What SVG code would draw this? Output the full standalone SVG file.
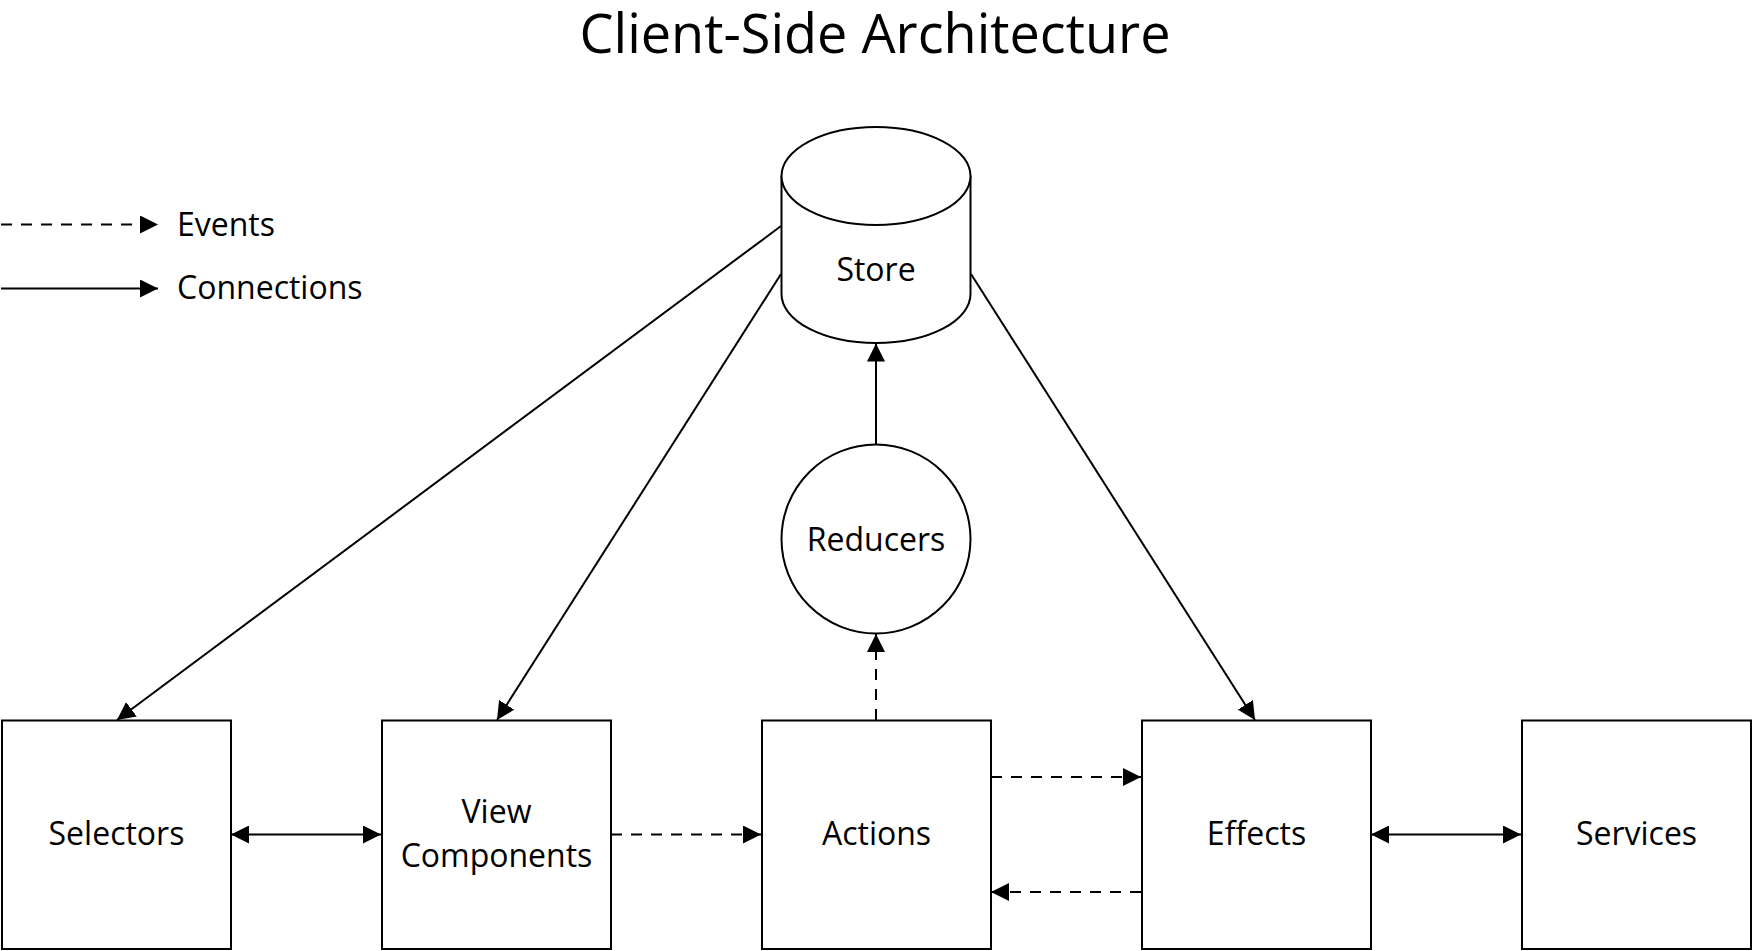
<svg xmlns="http://www.w3.org/2000/svg" width="1752" height="951" viewBox="0 0 1752 951">
<style>
.shape{fill:#fff;stroke:#000;stroke-width:2}
.lbl{font-family:"Open Sans","Noto Sans",sans-serif;font-size:32px;fill:#000;text-anchor:middle}
.leg{font-family:"Open Sans","Noto Sans",sans-serif;font-size:32px;fill:#000}
.title{font-family:"Open Sans","Noto Sans",sans-serif;font-size:54px;fill:#000;text-anchor:middle}
.conn{fill:none;stroke:#000;stroke-width:2}
.dash{stroke-dasharray:11 9}
</style>
<defs>
<marker id="ah" markerUnits="userSpaceOnUse" viewBox="0 0 18 18" markerWidth="18" markerHeight="18" refX="18" refY="9" orient="auto-start-reverse">
<path d="M0,0 L18,9 L0,18 Z" fill="#000"/>
</marker>
</defs>
<rect width="1752" height="951" fill="#fff"/>
<text class="title" x="875" y="53">Client-Side Architecture</text>
<g id="legend">
<line class="conn dash" x1="1" y1="224.5" x2="158" y2="224.5" marker-end="url(#ah)"/>
<text class="leg" x="177" y="236">Events</text>
<line class="conn" x1="1" y1="288.5" x2="158" y2="288.5" marker-end="url(#ah)"/>
<text class="leg" x="177" y="299">Connections</text>
</g>
<g id="connectors">
<line class="conn" x1="781" y1="226" x2="117" y2="720" marker-end="url(#ah)"/>
<line class="conn" x1="781" y1="274" x2="497" y2="720" marker-end="url(#ah)"/>
<line class="conn" x1="971" y1="274" x2="1255" y2="720" marker-end="url(#ah)"/>
<line class="conn" x1="876" y1="444" x2="876" y2="343.5" marker-end="url(#ah)"/>
<line class="conn dash" x1="876" y1="720" x2="876" y2="634" marker-end="url(#ah)"/>
<line class="conn" x1="231" y1="834.5" x2="381" y2="834.5" marker-start="url(#ah)" marker-end="url(#ah)"/>
<line class="conn dash" x1="611" y1="834.5" x2="761" y2="834.5" marker-end="url(#ah)"/>
<line class="conn dash" x1="991" y1="777" x2="1141" y2="777" marker-end="url(#ah)"/>
<line class="conn dash" x1="1141" y1="892" x2="991" y2="892" marker-end="url(#ah)"/>
<line class="conn" x1="1371" y1="834.5" x2="1521" y2="834.5" marker-start="url(#ah)" marker-end="url(#ah)"/>
</g>
<g id="store">
<path class="shape" d="M781.5,176 L781.5,294 A94.5,49 0 0 0 970.5,294 L970.5,176"/>
<ellipse class="shape" cx="876" cy="176" rx="94.5" ry="49"/>
<text class="lbl" x="876" y="281">Store</text>
</g>
<g id="reducers">
<circle class="shape" cx="876" cy="539" r="94.5"/>
<text class="lbl" x="876" y="551">Reducers</text>
</g>
<g id="selectors">
<rect class="shape" x="2" y="720.5" width="229" height="228.5"/>
<text class="lbl" x="116.5" y="845">Selectors</text>
</g>
<g id="view-components">
<rect class="shape" x="382" y="720.5" width="229" height="228.5"/>
<text class="lbl" x="496.5" y="823">View</text>
<text class="lbl" x="496.5" y="867">Components</text>
</g>
<g id="actions">
<rect class="shape" x="762" y="720.5" width="229" height="228.5"/>
<text class="lbl" x="876.5" y="845">Actions</text>
</g>
<g id="effects">
<rect class="shape" x="1142" y="720.5" width="229" height="228.5"/>
<text class="lbl" x="1256.5" y="845">Effects</text>
</g>
<g id="services">
<rect class="shape" x="1522" y="720.5" width="229" height="228.5"/>
<text class="lbl" x="1636.5" y="845">Services</text>
</g>
</svg>
